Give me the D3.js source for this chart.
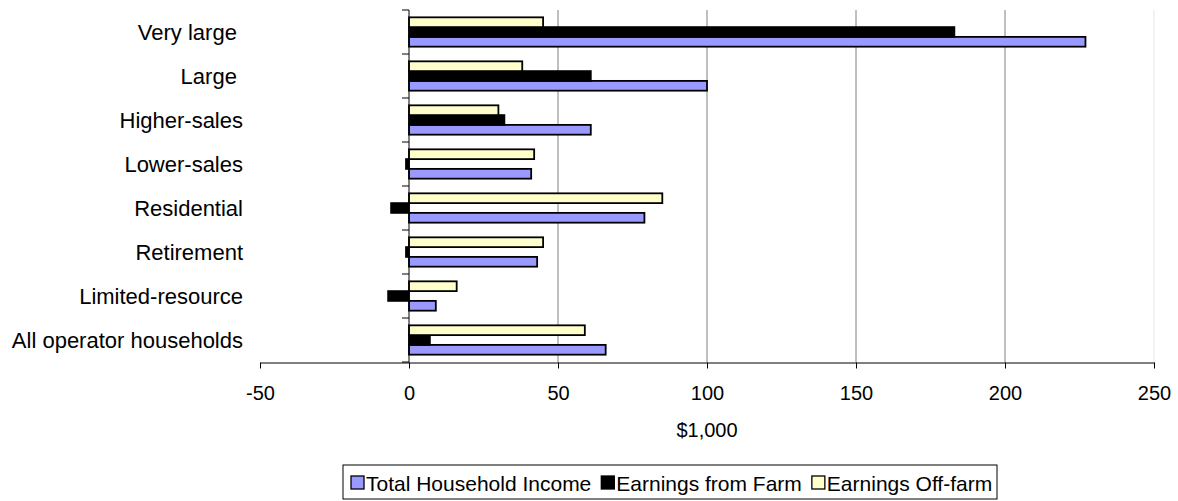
<!DOCTYPE html>
<html>
<head>
<meta charset="utf-8">
<script src="https://cdn.jsdelivr.net/npm/d3@7"></script>
<style>
  body { margin: 0; background: #fff; }
  svg { font-family: "Liberation Sans", Arial, sans-serif; }
</style>
</head>
<body>
<svg width="1178" height="501"></svg>
<script>
var categories = ["Very large ", "Large ", "Higher-sales", "Lower-sales", "Residential", "Retirement", "Limited-resource", "All operator households"];
var totalIncome = [227, 100, 61, 41, 79, 43, 9, 66];
var farmEarnings = [183, 61, 32, -1, -6, -1, -7, 7];
var offFarmEarnings = [45, 38, 30, 42, 85, 45, 16, 59];
var seriesNames = ["Total Household Income", "Earnings from Farm", "Earnings Off-farm"];
var seriesColors = ["#9999ff", "#000000", "#ffffcc"];
var xTicks = [-50, 0, 50, 100, 150, 200, 250];

var series = [
  {name: seriesNames[0], color: seriesColors[0], values: totalIncome},
  {name: seriesNames[1], color: seriesColors[1], values: farmEarnings},
  {name: seriesNames[2], color: seriesColors[2], values: offFarmEarnings}
];

var svg = d3.select("svg");

var xs = d3.scaleLinear().domain([-50, 250]).range([260, 1154]);
var ys = d3.scaleBand().domain(categories).range([10, 362]).paddingInner(1/3).paddingOuter(1/6);
// Excel draws the first series at the bottom of each group
var sub = d3.scaleBand().domain([2, 1, 0]).range([0, ys.bandwidth()]);

// gridlines
svg.append("g")
  .selectAll("line")
  .data(xTicks.filter(function(d) { return d > 0; }))
  .enter()
  .append("line")
  .attr("x1", function(d) { return xs(d); })
  .attr("x2", function(d) { return xs(d); })
  .attr("y1", 10)
  .attr("y2", 362)
  .attr("stroke", function(d) { return d == 250 ? "#e6e6e6" : "#808080"; })
  .attr("stroke-width", 1);

// bars
series.forEach(function(s, si) {
  svg.append("g")
    .selectAll("rect")
    .data(s.values)
    .enter()
    .append("rect")
    .attr("x", function(d) { return xs(Math.min(0, d)); })
    .attr("y", function(d, i) { return ys(categories[i]) + sub(si); })
    .attr("width", function(d) { return Math.abs(xs(d) - xs(0)); })
    .attr("height", sub.bandwidth())
    .attr("fill", s.color)
    .attr("stroke", "#000")
    .attr("stroke-width", 1.8);
});

// value axis
var xAxis = svg.append("g")
  .attr("transform", "translate(0,362.5)")
  .call(d3.axisBottom(xs).tickValues(xTicks).tickSize(6).tickSizeOuter(0).tickPadding(17)
    .tickFormat(function(d) { return String(d); }));
xAxis.select(".domain").attr("stroke", "#000");
xAxis.selectAll("text").attr("font-size", 20).attr("fill", "#000").attr("font-family", "Liberation Sans, Arial, sans-serif");

// category axis on the zero line
var catTicks = d3.range(categories.length + 1).map(function(i) { return 10 + i * ys.step(); });
svg.append("line")
  .attr("x1", xs(0)).attr("x2", xs(0))
  .attr("y1", 10).attr("y2", 362.5)
  .attr("stroke", "#000");
svg.append("g")
  .selectAll("line")
  .data(catTicks)
  .enter()
  .append("line")
  .attr("x1", xs(0) - 7).attr("x2", xs(0))
  .attr("y1", function(d) { return d; })
  .attr("y2", function(d) { return d; })
  .attr("stroke", "#000");

svg.append("g")
  .selectAll("text")
  .data(categories)
  .enter()
  .append("text")
  .attr("x", 243)
  .attr("y", function(d) { return ys(d) + ys.bandwidth() / 2 + 8; })
  .attr("text-anchor", "end")
  .attr("font-size", 22)
  .style("white-space", "pre")
  .text(function(d) { return d; });

svg.append("text")
  .attr("x", xs(100))
  .attr("y", 437)
  .attr("text-anchor", "middle")
  .attr("font-size", 20)
  .text("$1,000");

// legend
var legend = svg.append("g");
legend.append("rect")
  .attr("x", 343).attr("y", 465)
  .attr("width", 654).attr("height", 34)
  .attr("fill", "#fff")
  .attr("stroke", "#000");

var lx = 351;
series.forEach(function(s) {
  legend.append("rect")
    .attr("x", lx).attr("y", 476)
    .attr("width", 13).attr("height", 13)
    .attr("fill", s.color)
    .attr("stroke", "#000")
    .attr("stroke-width", 1.3);
  var t = legend.append("text")
    .attr("x", lx + 15)
    .attr("y", 491)
    .attr("font-size", 21)
    .text(s.name);
  lx = lx + 15 + t.node().getComputedTextLength() + 10;
});
</script>
</body>
</html>
